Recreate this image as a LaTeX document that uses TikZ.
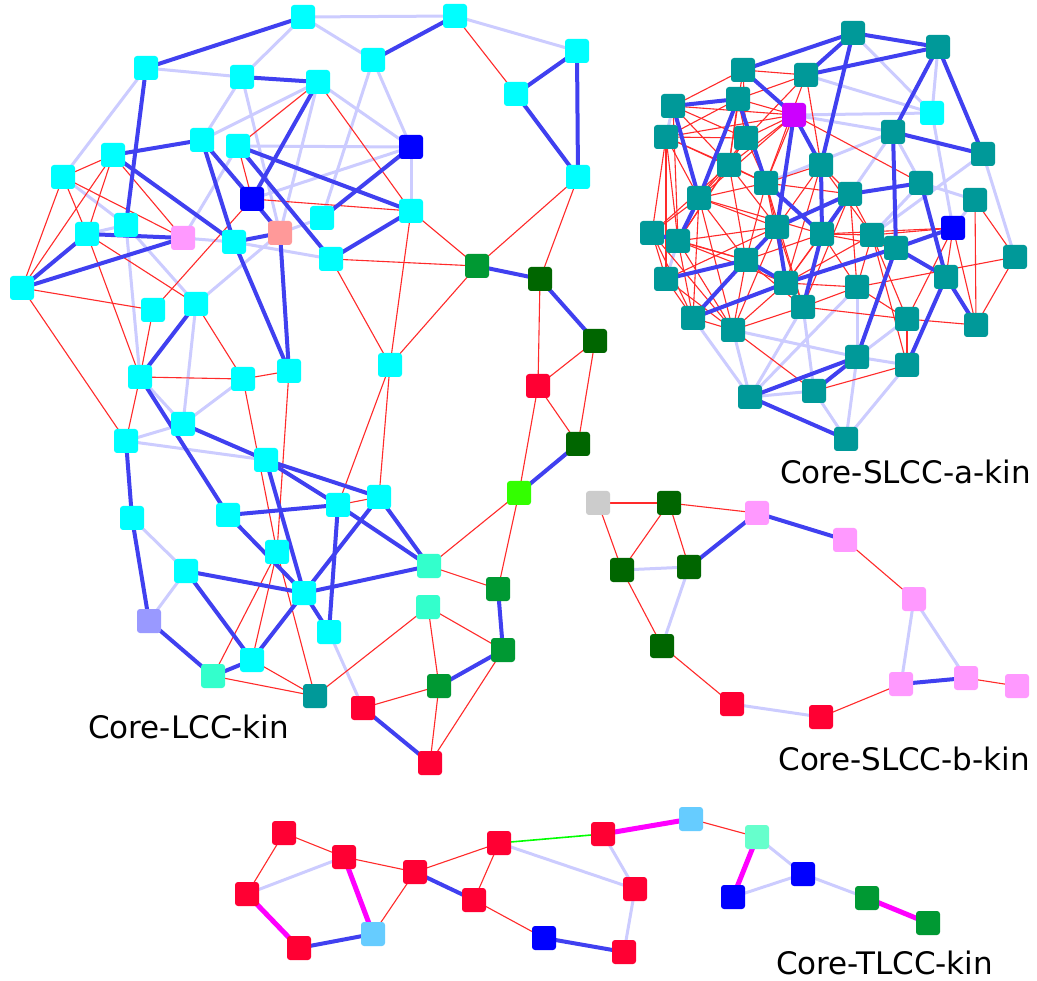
\documentclass[tikz,border=0pt]{standalone}
\usepackage{fontspec}
\setmainfont{DejaVu Sans}
\pgfdeclarelayer{bg}
\pgfsetlayers{bg,main}
\definecolor{ccyan}{HTML}{00FFFF}
\definecolor{cblue}{HTML}{0000FF}
\definecolor{cpink}{HTML}{FF99FF}
\definecolor{csalmon}{HTML}{FF9999}
\definecolor{cgreen}{HTML}{009933}
\definecolor{cdkgreen}{HTML}{006600}
\definecolor{cred}{HTML}{FF0033}
\definecolor{cbrgreen}{HTML}{33FF00}
\definecolor{caqua}{HTML}{33FFCC}
\definecolor{caqua2}{HTML}{66FFCC}
\definecolor{clav}{HTML}{9999FF}
\definecolor{cteal}{HTML}{009999}
\definecolor{cpurple}{HTML}{CC00FF}
\definecolor{cgray}{HTML}{CCCCCC}
\definecolor{cltblue}{HTML}{66CCFF}
\definecolor{ebb}{HTML}{4040F0}
\definecolor{elb}{HTML}{CCCCFF}
\definecolor{erd}{HTML}{FF2A2A}
\definecolor{emg}{HTML}{FF00FF}
\definecolor{egr}{HTML}{00FF00}
\tikzset{
  nd/.style={rectangle,rounded corners=3pt,minimum size=24pt,inner sep=0pt,draw=none},
  bb/.style={draw=ebb,line width=4pt},
  lb/.style={draw=elb,line width=3pt},
  rd/.style={draw=erd,line width=1.1pt},
  mg/.style={draw=emg,line width=5pt},
  gr/.style={draw=egr,line width=1.6pt},
  lbl/.style={font=\fontsize{31}{31}\selectfont,inner sep=0pt,text depth=0pt}
}
\begin{document}
\begin{tikzpicture}[x=1pt,y=-1pt]
\useasboundingbox (0,0) rectangle (1037,981);
% ---------- LCC nodes ----------
\foreach \n/\x/\y/\c in {
L1/303/17/ccyan, L2/455/16/ccyan, L3/146/68/ccyan, L4/242/77/ccyan, L5/318/82/ccyan,
L6/373/60/ccyan, L7/577/51/ccyan, L8/516/94/ccyan, L9/202/140/ccyan, L10/238/146/ccyan,
L11/113/155/ccyan, L12/63/177/ccyan, L13/411/147/cblue, L14/578/177/ccyan, L15/252/199/cblue,
L16/322/218/ccyan, L17/411/211/ccyan, L18/87/234/ccyan, L19/126/225/ccyan, L20/183/238/cpink,
L21/234/242/ccyan, L22/280/233/csalmon, L23/331/259/ccyan, L24/22/288/ccyan, L25/477/266/cgreen,
L26/540/279/cdkgreen, L27/153/310/ccyan, L28/196/304/ccyan, L29/595/341/cdkgreen, L30/538/386/cred,
L31/390/365/ccyan, L32/289/371/ccyan, L33/140/377/ccyan, L34/243/379/ccyan, L35/578/444/cdkgreen,
L36/183/424/ccyan, L37/126/441/ccyan, L38/266/460/ccyan, L39/519/493/cbrgreen, L40/379/497/ccyan,
L41/338/505/ccyan, L42/132/518/ccyan, L43/228/515/ccyan, L44/429/566/caqua, L45/277/552/ccyan,
L46/186/571/ccyan, L47/498/589/cgreen, L48/304/593/ccyan, L49/149/621/clav, L50/329/632/ccyan,
L51/428/607/caqua, L52/503/650/cgreen, L53/252/660/ccyan, L54/213/676/caqua, L55/315/696/cteal,
L56/439/686/cgreen, L57/363/708/cred, L58/430/763/cred}
  \node[nd,fill=\c] (\n) at (\x,\y) {};
% ---------- SLCC-a nodes ----------
\foreach \n/\x/\y/\c in {
A1/853/33/cteal, A2/938/47/cteal, A3/743/70/cteal, A4/806/75/cteal, A5/673/106/cteal,
A6/738/99/cteal, A7/794/115/cpurple, A8/932/113/ccyan, A9/666/137/cteal, A10/746/138/cteal,
A11/893/132/cteal, A12/983/154/cteal, A13/729/165/cteal, A14/821/165/cteal, A15/766/183/cteal,
A16/921/183/cteal, A17/699/198/cteal, A18/850/194/cteal, A19/975/200/cteal, A20/953/228/cblue,
A21/652/233/cteal, A22/678/241/cteal, A23/777/227/cteal, A24/822/234/cteal, A25/872/235/cteal,
A26/896/248/cteal, A27/1015/257/cteal, A28/746/260/cteal, A29/666/279/cteal, A30/786/283/cteal,
A31/946/277/cteal, A32/803/307/cteal, A33/857/287/cteal, A34/693/318/cteal, A35/733/330/cteal,
A36/907/319/cteal, A37/976/325/cteal, A38/857/357/cteal, A39/907/365/cteal, A40/750/397/cteal,
A41/814/391/cteal, A42/846/439/cteal}
  \node[nd,fill=\c] (\n) at (\x,\y) {};
% ---------- SLCC-b nodes ----------
\foreach \n/\x/\y/\c in {
B1/598/503/cgray, B2/669/503/cdkgreen, B3/757/513/cpink, B4/845/540/cpink, B5/622/570/cdkgreen,
B6/689/567/cdkgreen, B7/914/599/cpink, B8/662/646/cdkgreen, B9/732/704/cred, B10/821/717/cred,
B11/901/684/cpink, B12/966/678/cpink, B13/1017/686/cpink}
  \node[nd,fill=\c] (\n) at (\x,\y) {};
% ---------- TLCC nodes ----------
\foreach \n/\x/\y/\c in {
T1/284/833/cred, T2/344/857/cred, T3/247/894/cred, T4/415/872/cred, T5/499/843/cred,
T6/603/834/cred, T7/474/900/cred, T8/635/889/cred, T9/299/948/cred, T10/373/934/cltblue,
T11/544/938/cblue, T12/624/952/cred, T13/691/819/cltblue, T14/757/837/caqua2, T15/803/874/cblue,
T16/733/897/cblue, T17/867/898/cgreen, T18/928/923/cgreen}
  \node[nd,fill=\c] (\n) at (\x,\y) {};
% ---------- labels ----------
\node[lbl,anchor=base west] (labLCC) at (88,738) {Core-LCC-kin};
\node[lbl,anchor=base east] (labSa) at (1031,484) {Core-SLCC-a-kin};
\node[lbl,anchor=base east] (labSb) at (1030,770) {Core-SLCC-b-kin};
\node[lbl,anchor=base west] (labT) at (776,974) {Core-TLCC-kin};
% ---------- edges ----------
\begin{pgfonlayer}{bg}
\fill[white] (0,0) rectangle (1037,981);
% LCC light
\foreach \u/\v in {L1/L4,L1/L2,L1/L6,L3/L4,L3/L12,L4/L9,L4/L22,L5/L9,L5/L13,L5/L22,L6/L16,L6/L13,
  L2/L7,L13/L17,L10/L13,L15/L13,L10/L20,L12/L19,L19/L28,L18/L19,L19/L33,L20/L21,L21/L23,L22/L28,
  L22/L16,L28/L36,L33/L36,L34/L36,L36/L37,L37/L38,L42/L46,L46/L49,L50/L57}
  \draw[lb] (\u.center) -- (\v.center);
% LCC red
\foreach \u/\v in {L2/L8,L14/L25,L14/L26,L5/L10,L5/L17,L10/L15,L11/L12,L11/L20,L11/L18,L11/L24,
  L12/L18,L12/L24,L12/L20,L18/L28,L18/L33,L24/L27,L24/L37,L15/L27,L15/L17,L23/L25,L23/L31,L17/L31,
  L25/L31,L17/L25,L26/L30,L29/L30,L29/L35,L30/L35,L30/L39,L39/L44,L39/L47,L31/L41,L31/L40,L32/L45,
  L27/L33,L28/L34,L33/L34,L33/L37,L32/L34,L34/L45,L40/L41,L45/L54,L45/L53,L45/L55,L54/L55,L53/L55,
  L44/L47,L51/L52,L51/L56,L51/L55,L52/L58,L56/L57,L56/L58}
  \draw[rd] (\u.center) -- (\v.center);
% LCC thick blue
\foreach \u/\v in {L3/L1,L4/L5,L6/L2,L7/L8,L7/L14,L8/L14,L13/L16,L10/L17,L9/L21,L9/L15,L11/L9,
  L11/L21,L5/L15,L18/L20,L18/L24,L24/L20,L10/L23,L21/L22,L15/L22,L21/L32,L22/L32,L23/L17,L25/L26,
  L26/L29,L35/L39,L3/L19,L28/L33,L33/L43,L36/L38,L37/L42,L42/L49,L43/L41,L43/L48,L38/L40,L38/L41,
  L38/L48,L46/L48,L46/L53,L49/L54,L53/L54,L48/L53,L48/L50,L41/L50,L48/L44,L48/L40,L41/L44,L40/L44,
  L47/L52,L52/L56,L57/L58}
  \draw[bb] (\u.center) -- (\v.center);
% SLCC-a light
\foreach \u/\v in {A1/A8,A2/A8,A8/A20,A4/A8,A7/A11,A11/A16,A11/A18,A11/A15,A12/A27,A12/A25,A16/A19,
  A16/A25,A19/A20,A33/A38,A38/A39,A36/A38,A39/A42,A38/A42,A40/A41,A34/A40,A35/A40,A32/A40,A32/A41,
  A35/A38,A41/A42,A5/A9,A22/A29,A40/A33,A7/A8}
  \draw[lb] (\u.center) -- (\v.center);
% SLCC-a red
\foreach \u/\v in {A5/A3,A5/A7,A5/A10,A5/A13,A9/A6,A9/A7,A9/A10,A9/A13,A9/A17,A9/A21,A9/A22,A9/A15,
  A3/A10,A3/A4,A6/A7,A6/A10,A6/A13,A6/A4,A4/A14,A4/A10,A7/A10,A7/A13,A7/A15,A7/A17,A10/A13,A10/A15,
  A10/A17,A10/A22,A13/A17,A13/A15,A13/A21,A13/A22,A13/A23,A13/A28,A15/A17,A15/A23,A15/A28,A15/A30,
  A15/A32,A15/A14,A15/A18,A14/A18,A14/A23,A14/A25,A14/A30,A17/A23,A17/A28,A17/A34,A17/A35,A17/A24,
  A18/A23,A18/A25,A18/A30,A18/A32,A18/A33,A21/A28,A21/A29,A21/A34,A21/A35,A21/A17,A22/A28,A22/A34,
  A22/A35,A22/A30,A22/A23,A29/A34,A29/A35,A29/A23,A34/A35,A35/A28,A35/A30,A35/A32,A35/A23,A28/A24,
  A28/A32,A30/A24,A30/A32,A30/A33,A32/A23,A32/A33,A24/A33,A24/A25,A25/A33,A25/A30,A24/A26,A25/A36,
  A33/A36,A20/A31,A20/A37,A20/A36,A20/A25,A36/A39,A36/A37,A19/A37,A19/A27,A27/A37,A27/A33,A39/A41,
  A35/A41,A7/A16,A24/A20,A25/A39,A32/A36,A5/A22,A9/A29,A3/A13,A4/A15}
  \draw[rd] (\u.center) -- (\v.center);
% SLCC-a thick blue
\foreach \u/\v in {A3/A1,A4/A1,A4/A2,A1/A2,A1/A14,A2/A11,A2/A12,A11/A12,A11/A26,A16/A18,A16/A31,
  A20/A26,A26/A31,A31/A37,A31/A39,A26/A38,A38/A41,A40/A42,A40/A38,A28/A34,A30/A34,A28/A29,A23/A28,
  A28/A30,A23/A30,A24/A32,A30/A26,A17/A22,A5/A17,A6/A17,A5/A6,A3/A7,A6/A15,A7/A23,A7/A14,A15/A24,
  A18/A23,A21/A22,A14/A24,A18/A24}
  \draw[bb] (\u.center) -- (\v.center);
% SLCC-b
\foreach \u/\v in {B1/B2,B1/B5,B2/B5,B2/B6,B2/B3,B4/B7,B5/B8,B8/B9,B10/B11,B12/B13}
  \draw[rd] (\u.center) -- (\v.center);
\foreach \u/\v in {B5/B6,B6/B8,B9/B10,B7/B11,B7/B12}
  \draw[lb] (\u.center) -- (\v.center);
\foreach \u/\v in {B6/B3,B3/B4,B11/B12}
  \draw[bb] (\u.center) -- (\v.center);
% TLCC
\foreach \u/\v in {T1/T2,T1/T3,T2/T4,T4/T10,T4/T5,T5/T7,T7/T11,T13/T14}
  \draw[rd] (\u.center) -- (\v.center);
\foreach \u/\v in {T3/T2,T5/T8,T6/T8,T8/T12,T14/T15,T16/T15,T15/T17}
  \draw[lb] (\u.center) -- (\v.center);
\foreach \u/\v in {T9/T10,T4/T7,T11/T12}
  \draw[bb] (\u.center) -- (\v.center);
\foreach \u/\v in {T3/T9,T2/T10,T6/T13,T14/T16,T17/T18}
  \draw[mg] (\u.center) -- (\v.center);
\draw[gr] (T5.center) -- (T6.center);
\end{pgfonlayer}
\end{tikzpicture}
\end{document}
